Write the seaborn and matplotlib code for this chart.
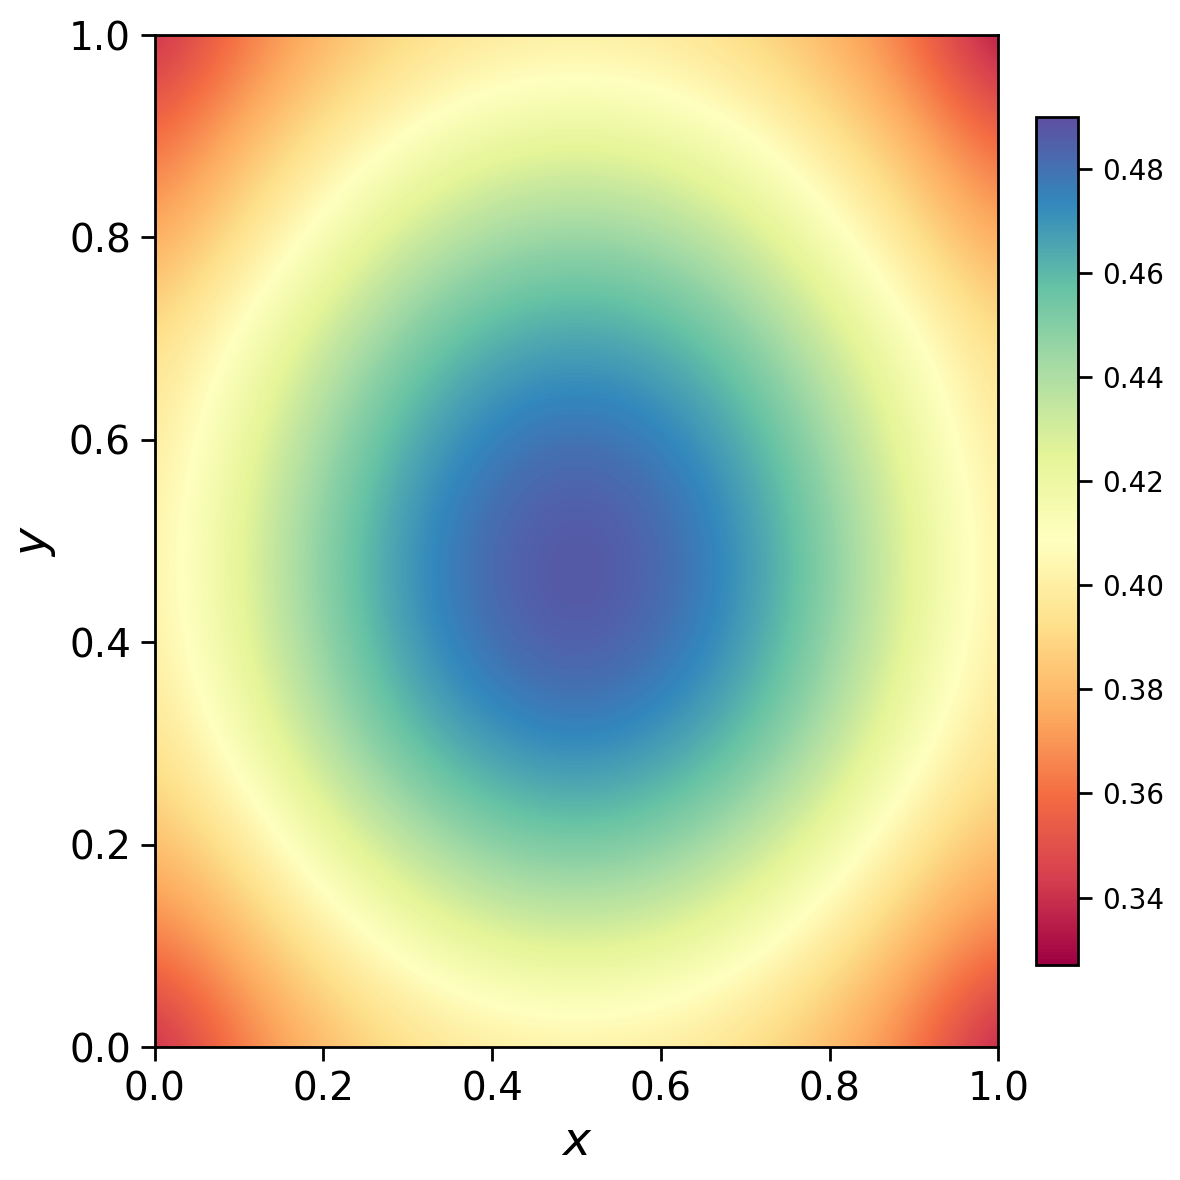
import matplotlib
matplotlib.use('Agg')
import matplotlib.pyplot as plt
import seaborn as sns
import numpy as np

# grid nodes (x and y from 0 to 1 in steps of 0.1)
x_nodes = [0.0, 0.1, 0.2, 0.3, 0.4, 0.5, 0.6, 0.7, 0.8, 0.9, 1.0]
y_nodes = [0.0, 0.1, 0.2, 0.3, 0.4, 0.5, 0.6, 0.7, 0.8, 0.9, 1.0]

# one list per row, bottom (y=0) to top (y=1)
row_y00 = [0.333, 0.362, 0.379, 0.391, 0.397, 0.399, 0.397, 0.391, 0.379, 0.362, 0.330]
row_y01 = [0.362, 0.378, 0.397, 0.413, 0.424, 0.427, 0.424, 0.413, 0.397, 0.378, 0.362]
row_y02 = [0.380, 0.396, 0.419, 0.437, 0.450, 0.454, 0.450, 0.437, 0.419, 0.396, 0.380]
row_y03 = [0.393, 0.414, 0.438, 0.458, 0.470, 0.475, 0.470, 0.458, 0.438, 0.414, 0.393]
row_y04 = [0.399, 0.423, 0.448, 0.469, 0.482, 0.488, 0.482, 0.469, 0.448, 0.423, 0.399]
row_y05 = [0.400, 0.425, 0.450, 0.471, 0.484, 0.490, 0.484, 0.471, 0.450, 0.425, 0.400]
row_y06 = [0.397, 0.420, 0.444, 0.464, 0.477, 0.482, 0.477, 0.464, 0.444, 0.420, 0.397]
row_y07 = [0.391, 0.411, 0.432, 0.451, 0.463, 0.467, 0.463, 0.451, 0.432, 0.411, 0.391]
row_y08 = [0.374, 0.393, 0.414, 0.432, 0.443, 0.447, 0.443, 0.432, 0.414, 0.393, 0.374]
row_y09 = [0.358, 0.378, 0.395, 0.410, 0.420, 0.423, 0.420, 0.410, 0.395, 0.378, 0.356]
row_y10 = [0.335, 0.360, 0.378, 0.389, 0.396, 0.398, 0.396, 0.389, 0.378, 0.360, 0.327]

cbar_ticks = [0.34, 0.36, 0.38, 0.40, 0.42, 0.44, 0.46, 0.48]
axis_ticks = [0.0, 0.2, 0.4, 0.6, 0.8, 1.0]

field = np.array([row_y00, row_y01, row_y02, row_y03, row_y04, row_y05,
                  row_y06, row_y07, row_y08, row_y09, row_y10])

sns.set_style("ticks")
plt.rcParams['font.family'] = ['DejaVu Sans']
plt.rcParams['axes.labelcolor'] = 'black'
plt.rcParams['text.color'] = 'black'

fig = plt.figure(figsize=(5.9, 5.9), dpi=200)
ax = fig.add_axes([0.131, 0.1127, 0.715, 0.8576])
cax = fig.add_axes([0.878, 0.182, 0.0356, 0.719])

cmap = sns.color_palette("Spectral", as_cmap=True)
half = (x_nodes[1] - x_nodes[0]) / 2
im = ax.imshow(field, origin='lower', cmap=cmap, interpolation='bicubic',
               extent=[x_nodes[0] - half, x_nodes[-1] + half,
                       y_nodes[0] - half, y_nodes[-1] + half],
               vmin=field.min(), vmax=field.max(), aspect='auto')
ax.set_xlim(0, 1)
ax.set_ylim(0, 1)
ax.set_xticks(axis_ticks)
ax.set_yticks(axis_ticks)
ax.tick_params(labelsize=14, length=5, width=1, direction='out', colors='black')
ax.set_xlabel("$x$", fontsize=17)
ax.set_ylabel("$y$", fontsize=17)
for s in ax.spines.values():
    s.set_visible(True)
    s.set_color('black')
    s.set_linewidth(1.0)

cb = fig.colorbar(im, cax=cax)
cb.set_ticks(cbar_ticks)
cb.ax.tick_params(labelsize=10, length=5, width=1, colors='black')
cb.outline.set_edgecolor('black')
cb.outline.set_linewidth(1.0)

fig.savefig("out.png", dpi=200)
plt.close(fig)
